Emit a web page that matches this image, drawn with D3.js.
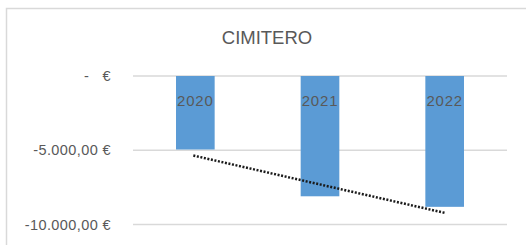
<!DOCTYPE html>
<html>
<head>
<meta charset="utf-8">
<script src="https://cdn.jsdelivr.net/npm/d3@7"></script>
<style>
  body { margin: 0; background: #fff; }
  text { font-family: "Liberation Sans", Arial, sans-serif; }
</style>
</head>
<body>
<div id="chart"></div>
<script>
const years = ["2020", "2021", "2022"];
const values = [-4950, -8100, -8810];
const yTicks = [0, -5000, -10000];
const title = "CIMITERO";

const W = 526, H = 245;
const plot = { left: 133, right: 507, top: 76, bottom: 224.5 };

const svg = d3.select("#chart").append("svg")
    .attr("width", W)
    .attr("height", H);

// chart frame
svg.append("rect")
    .attr("x", 6.5).attr("y", 8.5)
    .attr("width", 540).attr("height", 260)
    .attr("fill", "#fff")
    .attr("stroke", "#d9d9d9")
    .attr("stroke-width", 1.5);

const x = d3.scaleBand()
    .domain(years)
    .range([plot.left, plot.right])
    .paddingInner(0.69)
    .paddingOuter(0.345);

const y = d3.scaleLinear()
    .domain([-10000, 0])
    .range([plot.bottom, plot.top]);

// euro format like Excel accounting
function euro(v) {
    if (v === 0) return "-   €";
    const s = d3.format(",.2f")(Math.abs(v))
        .replace(/,/g, "#").replace(".", ",").replace(/#/g, ".");
    return (v < 0 ? "-" : "") + s + " €";
}

const yAxis = d3.axisLeft(y)
    .tickValues(yTicks)
    .tickSize(0)
    .tickPadding(0)
    .tickFormat(euro);

svg.append("g")
    .attr("class", "y-axis")
    .attr("transform", "translate(111,0)")
    .call(yAxis)
    .call(g => g.select(".domain").remove())
    .selectAll("text")
    .attr("fill", "#595959")
    .attr("font-size", 14.5)
    .attr("letter-spacing", 0.4)
    .style("white-space", "pre");

// gridlines
svg.append("g")
    .selectAll("line")
    .data(yTicks)
    .join("line")
    .attr("x1", plot.left)
    .attr("x2", plot.right)
    .attr("y1", d => y(d))
    .attr("y2", d => y(d))
    .attr("stroke", "#d9d9d9")
    .attr("stroke-width", 1.5);

// bars
svg.append("g")
    .selectAll("rect")
    .data(values)
    .join("rect")
    .attr("x", (d, i) => x(years[i]))
    .attr("width", x.bandwidth())
    .attr("y", y(0))
    .attr("height", d => y(d) - y(0))
    .attr("fill", "#5b9bd5");

// category labels inside bars
svg.append("g")
    .selectAll("text")
    .data(years)
    .join("text")
    .attr("x", d => x(d) + x.bandwidth() / 2)
    .attr("y", 106)
    .attr("text-anchor", "middle")
    .attr("fill", "#595959")
    .attr("font-size", 15)
    .attr("letter-spacing", 0.8)
    .text(d => d);

// linear trendline
const idx = values.map((d, i) => i);
const mx = d3.mean(idx), my = d3.mean(values);
const slope = d3.sum(idx, i => (i - mx) * (values[i] - my)) / d3.sum(idx, i => (i - mx) ** 2);
const icpt = my - slope * mx;
const cx = i => x(years[i]) + x.bandwidth() / 2;

svg.append("line")
    .attr("x1", cx(0) - 2)
    .attr("y1", y(icpt))
    .attr("x2", cx(years.length - 1))
    .attr("y2", y(icpt + slope * (years.length - 1)))
    .attr("stroke", "#1a1a1a")
    .attr("stroke-width", 2.5)
    .attr("stroke-dasharray", "2,1.6");

// title
svg.append("text")
    .attr("x", 267)
    .attr("y", 44)
    .attr("text-anchor", "middle")
    .attr("fill", "#595959")
    .attr("font-size", 18.5)
    .text(title);
</script>
</body>
</html>
